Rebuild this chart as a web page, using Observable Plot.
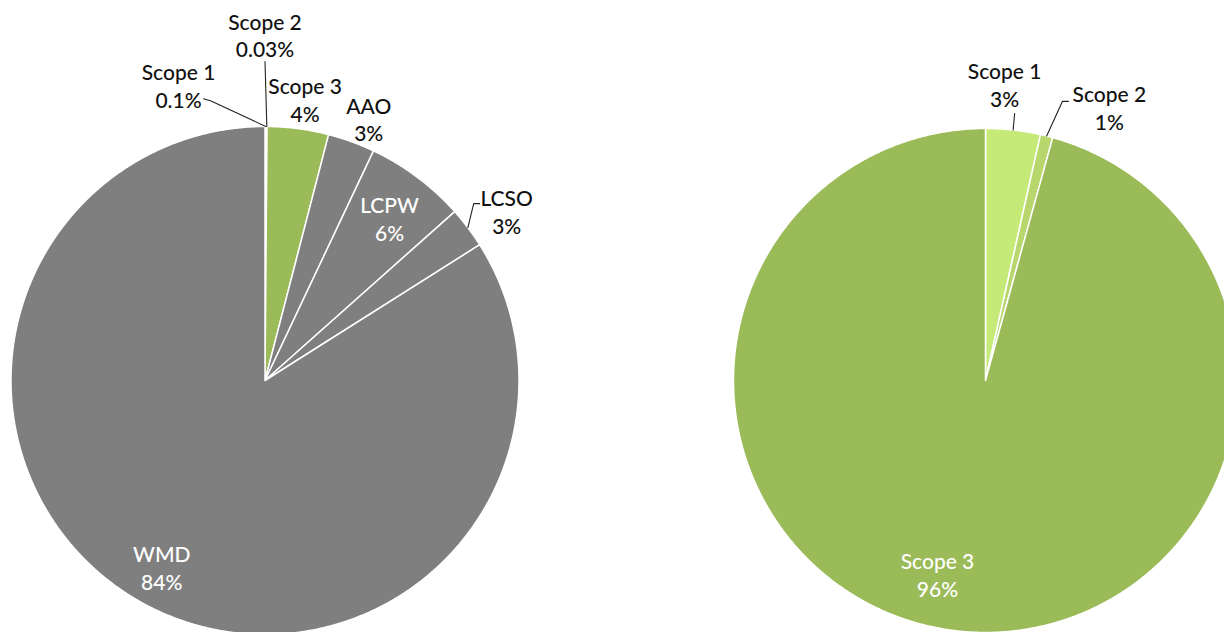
<!DOCTYPE html>
<html><head><meta charset="utf-8">
<script src="https://cdn.jsdelivr.net/npm/d3@7"></script>
<script src="https://cdn.jsdelivr.net/npm/@observablehq/plot@0.6"></script>
<style>html,body{margin:0;padding:0;background:#fff}svg{display:block}</style>
</head><body><div id="chart"></div>
<script>
// ---- data ----
const leftCategories = ["Scope 1", "Scope 2", "Scope 3", "AAO", "LCPW", "LCSO", "WMD"];
const leftValues = [0.1, 0.03, 3.9, 3.0, 6.4, 2.6, 84.0];
const leftLabels = ["0.1%", "0.03%", "4%", "3%", "6%", "3%", "84%"];
const rightCategories = ["Scope 1", "Scope 2", "Scope 3"];
const rightValues = [3.5, 0.8, 95.7];
const rightLabels = ["3%", "1%", "96%"];

// ---- layout / style ----
const W = 1224, H = 632;
const pies = {
  left: {cx: 264.5, cy: 380, r: 254},
  right: {cx: 985, cy: 380, r: 252}
};
const leftColors = ["#c6ea78", "#b7d66b", "#9bbb59", "#7f7f7f", "#7f7f7f", "#7f7f7f", "#7f7f7f"];
const rightColors = ["#c6ea78", "#b7d66b", "#9bbb59"];
// label placement: polar offset from pie centre (angle in degrees, radius factor), inside => white
const leftLabelPlace = [
  {ang: -16.3, rf: 1.213, inside: false, lead: [[25, 14], [32, 16]]},
  {ang: 0, rf: 1.362, inside: false, lead: [[0, 27]]},
  {ang: 8.1, rf: 1.12, inside: false},
  {ang: 21.6, rf: 1.109, inside: false},
  {ang: 37.4, rf: 0.807, inside: true},
  {ang: 54.9, rf: 1.163, inside: false, lead: [[-27, -7], [-33, -7]]},
  {ang: 208.9, rf: 0.841, inside: true}
];
const rightLabelPlace = [
  {ang: 3.7, rf: 1.177, inside: false, lead: [[10, 29]]},
  {ang: 24.4, rf: 1.19, inside: false, lead: [[-41, -6], [-47, -6]]},
  {ang: 193.9, rf: 0.793, inside: true}
];

function build(side, cats, vals, labels, colors, place) {
  const {cx, cy, r} = pies[side];
  const arcs = d3.pie().sort(null).value(d => d)(vals);
  const polys = [], texts = [], leaders = [], keys = [];
  arcs.forEach((a, i) => {
    const key = side + ":" + cats[i];
    keys.push(key);
    const pts = [{key, x: cx, y: cy}];
    const n = Math.max(2, Math.ceil((a.endAngle - a.startAngle) / 0.005));
    for (let k = 0; k <= n; k++) {
      const t = a.startAngle + (a.endAngle - a.startAngle) * k / n;
      pts.push({key, x: cx + r * Math.sin(t), y: cy - r * Math.cos(t)});
    }
    pts.push({key, x: cx, y: cy});
    polys.push(...pts);
    const p = place[i];
    const la = p.ang * Math.PI / 180;
    const tx = cx + p.rf * r * Math.sin(la), ty = cy - p.rf * r * Math.cos(la);
    texts.push({x: tx, y: ty, text: cats[i] + "\n" + labels[i], inside: p.inside});
    if (p.lead) {
      const mid = (a.startAngle + a.endAngle) / 2;
      const lk = key + ":lead";
      p.lead.forEach(([dx, dy]) => leaders.push({key: lk, x: tx + dx, y: ty + dy}));
      leaders.push({key: lk, x: cx + r * Math.sin(mid), y: cy - r * Math.cos(mid)});
    }
  });
  return {polys, texts, leaders, keys, colors};
}

const L = build("left", leftCategories, leftValues, leftLabels, leftColors, leftLabelPlace);
const R = build("right", rightCategories, rightValues, rightLabels, rightColors, rightLabelPlace);
const polys = [...L.polys, ...R.polys];
const texts = [...L.texts, ...R.texts];
const leaders = [...L.leaders, ...R.leaders];

const font = "Lato, 'Noto Sans', sans-serif";
const chart = Plot.plot({
  width: W, height: H,
  margin: 0,
  x: {domain: [0, W], range: [0, W], axis: null},
  y: {domain: [0, H], range: [0, H], axis: null},
  color: {type: "ordinal", domain: [...L.keys, ...R.keys], range: [...L.colors, ...R.colors]},
  style: {fontFamily: font, background: "white"},
  marks: [
    Plot.line(polys, {x: "x", y: "y", z: "key", fill: "key", stroke: "white", strokeWidth: 1.5, curve: "linear", strokeLinejoin: "round"}),
    Plot.line(leaders, {x: "x", y: "y", z: "key", stroke: "#222", strokeWidth: 1.1, curve: "linear"}),
    Plot.text(texts.filter(d => !d.inside), {x: "x", y: "y", text: "text", fill: "#111", fontSize: 21, fontWeight: 500, lineHeight: 1.33}),
    Plot.text(texts.filter(d => d.inside), {x: "x", y: "y", text: "text", fill: "white", fontSize: 21, fontWeight: 500, lineHeight: 1.33})
  ]
});
document.getElementById("chart").appendChild(chart);
</script>
</body></html>
